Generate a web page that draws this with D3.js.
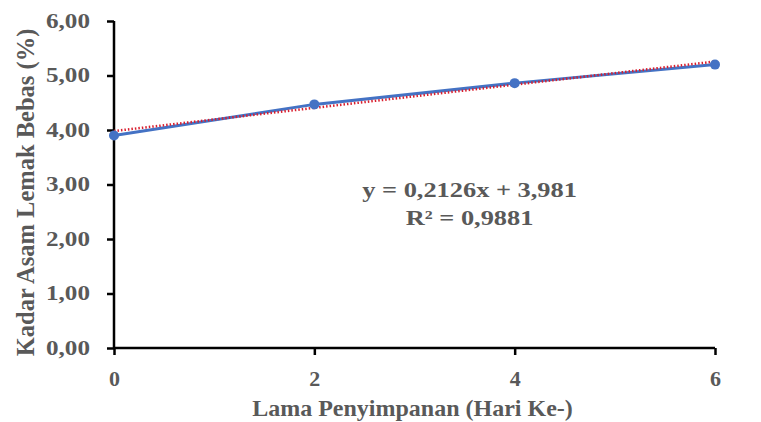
<!DOCTYPE html>
<html>
<head>
<meta charset="utf-8">
<script src="https://cdn.jsdelivr.net/npm/d3@7"></script>
<style>
  body { margin: 0; background: #fff; }
  text { font-family: "Liberation Serif", "DejaVu Serif", serif; font-weight: bold; fill: #595959; }
</style>
</head>
<body>
<div id="chart"></div>
<script>
// data
let days = [0, 2, 4, 6];
let kadar = [3.90, 4.47, 4.86, 5.20];
let yTicks = [0, 1, 2, 3, 4, 5, 6];
let xTicks = [0, 2, 4, 6];
let slope = 0.2126, intercept = 3.981;
let eqLines = ["y = 0,2126x + 3,981", "R² = 0,9881"];

let W = 761, H = 422;
let margin = {top: 21, right: 46, bottom: 74, left: 114};
let width = W - margin.left - margin.right,
    height = H - margin.top - margin.bottom;

let svg = d3.select("#chart").append("svg")
    .attr("width", W).attr("height", H);
let g = svg.append("g")
    .attr("transform", "translate(" + margin.left + "," + margin.top + ")");

let x = d3.scaleLinear().domain([0, 6]).range([0, width]);
let y = d3.scaleLinear().domain([0, 6]).range([height, 0]);

let fmt = function (d) { return d3.format(".2f")(d).replace(".", ","); };

let yAxis = g.append("g")
    .call(d3.axisLeft(y).tickValues(yTicks).tickFormat(fmt).tickSize(7).tickPadding(17));
let xAxis = g.append("g")
    .attr("transform", "translate(0," + height + ")")
    .call(d3.axisBottom(x).tickValues(xTicks).tickFormat(d3.format("d")).tickSize(7).tickPadding(15));

[yAxis, xAxis].forEach(function (a) {
    a.select(".domain").attr("stroke", "#000").attr("stroke-width", 2.5);
    a.selectAll(".tick line").attr("stroke", "#000").attr("stroke-width", 2.5);
    a.selectAll(".tick text").attr("fill", "#595959")
        .style("font-family", "'Liberation Serif', serif").style("font-weight", "bold");
});
xAxis.selectAll(".tick text").style("font-size", "22px");
// y labels in the picture are drawn wider than normal
yAxis.selectAll(".tick text").style("font-size", "20px")
    .attr("x", -24)
    .attr("textLength", 44)
    .attr("lengthAdjust", "spacingAndGlyphs");
yAxis.select(".domain").attr("d", "M0," + height + "V0");
xAxis.select(".domain").attr("d", "M0,0H" + width);

// series line
let line = d3.line()
    .x(function (d, i) { return x(days[i]); })
    .y(function (d) { return y(d); });

g.append("path")
    .datum(kadar)
    .attr("d", line)
    .style("fill", "none")
    .style("stroke", "#4472C4")
    .style("stroke-width", 3);

// linear trendline
let trend = [0, 6].map(function (d) { return {x: d, y: intercept + slope * d}; });
g.append("path")
    .datum(trend)
    .attr("d", d3.line().x(function (d) { return x(d.x); }).y(function (d) { return y(d.y); }))
    .style("fill", "none")
    .style("stroke", "#D91E2E")
    .style("stroke-width", 2.5)
    .style("stroke-dasharray", "1.5,2");

g.selectAll()
    .data(kadar)
    .enter().append("circle")
    .attr("cx", function (d, i) { return x(days[i]); })
    .attr("cy", function (d) { return y(d); })
    .attr("r", 5)
    .style("fill", "#4472C4");

// equation label
let eqStretch = 1.2, eqX = x(3.55) / eqStretch;
let eq = g.append("text")
    .attr("transform", "scale(" + eqStretch + ",1)")
    .attr("x", eqX)
    .attr("y", y(2.77))
    .attr("text-anchor", "middle")
    .style("font-size", "22px");
eqLines.forEach(function (t, i) {
    eq.append("tspan").attr("x", eqX).attr("dy", i == 0 ? 0 : 28).text(t);
});

// axis titles
svg.append("text")
    .attr("x", margin.left + x(3) - 2)
    .attr("y", 416)
    .attr("text-anchor", "middle")
    .style("font-size", "24px")
    .text("Lama Penyimpanan (Hari Ke-)");

svg.append("text")
    .attr("transform", "translate(34," + (margin.top + height / 2 + 8) + ") rotate(-90)")
    .attr("text-anchor", "middle")
    .style("font-size", "24.5px")
    .text("Kadar Asam Lemak Bebas (%)");
</script>
</body>
</html>
